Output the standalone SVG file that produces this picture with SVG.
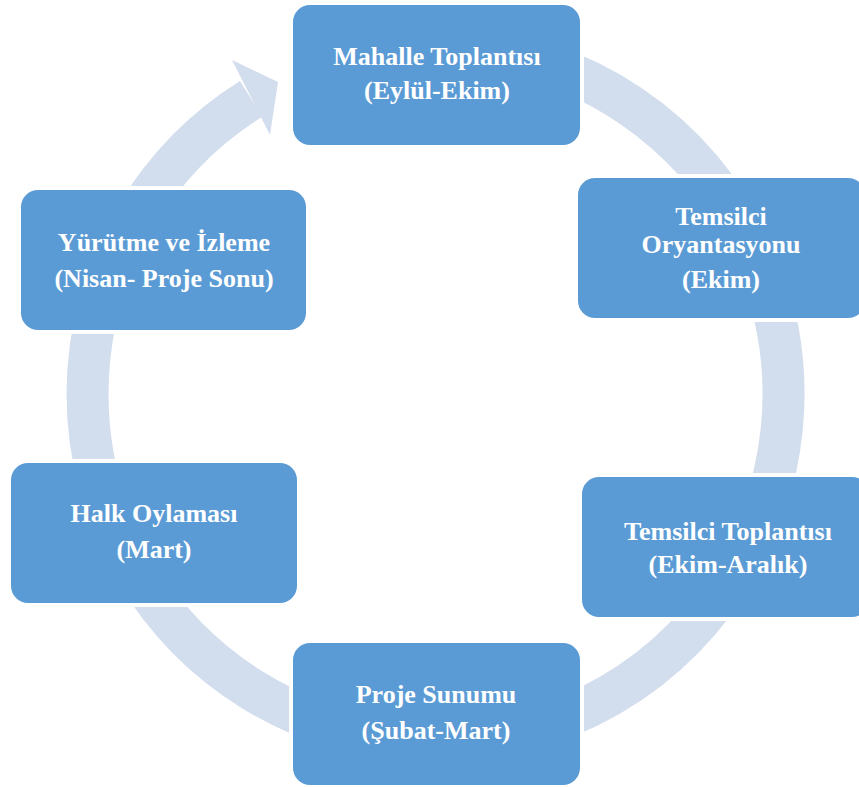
<svg xmlns="http://www.w3.org/2000/svg" width="859" height="787" viewBox="0 0 859 787">
<style>
.ring{fill:none;stroke:#D2DDEE;stroke-width:42}
.head{fill:#D2DDEE}
.halo{fill:#FFFFFF}
.box{fill:#5B9BD5}
.t{fill:#FFFFFF;font-family:"Liberation Serif","Times New Roman",serif;font-weight:bold;font-size:26px;text-anchor:middle}
</style>
<rect width="859" height="787" fill="#FFFFFF"/>
<g id="connectors">
<path class="ring" d="M316.5,67 A348,348 0 1 1 251.1,98.9"/>
<polygon class="head" points="232,60 278,82 270,135"/>
</g>
<g id="n1">
<rect class="halo" x="289" y="1" width="295" height="148" rx="20"/>
<rect class="box" x="293" y="5" width="287" height="140" rx="17"/>
<text class="t" x="437" y="65">Mahalle Toplantısı</text>
<text class="t" x="437" y="99">(Eylül-Ekim)</text>
</g>
<g id="n2">
<rect class="halo" x="574" y="174" width="295" height="148" rx="20"/>
<rect class="box" x="578" y="178" width="287" height="140" rx="17"/>
<text class="t" x="721" y="225">Temsilci</text>
<text class="t" x="721" y="253">Oryantasyonu</text>
<text class="t" x="721" y="288">(Ekim)</text>
</g>
<g id="n3">
<rect class="halo" x="578" y="473" width="295" height="148" rx="20"/>
<rect class="box" x="582" y="477" width="287" height="140" rx="17"/>
<text class="t" x="728" y="540">Temsilci Toplantısı</text>
<text class="t" x="728" y="573">(Ekim-Aralık)</text>
</g>
<g id="n4">
<rect class="halo" x="289" y="639" width="295" height="150" rx="20"/>
<rect class="box" x="293" y="643" width="287" height="142" rx="17"/>
<text class="t" x="436" y="703">Proje Sunumu</text>
<text class="t" x="436" y="739">(Şubat-Mart)</text>
</g>
<g id="n5">
<rect class="halo" x="7" y="459" width="294" height="148" rx="20"/>
<rect class="box" x="11" y="463" width="286" height="140" rx="17"/>
<text class="t" x="154" y="522">Halk Oylaması</text>
<text class="t" x="154" y="558">(Mart)</text>
</g>
<g id="n6">
<rect class="halo" x="17" y="186" width="293" height="148" rx="20"/>
<rect class="box" x="21" y="190" width="285" height="140" rx="17"/>
<text class="t" x="164" y="251">Yürütme ve İzleme</text>
<text class="t" x="164" y="287">(Nisan- Proje Sonu)</text>
</g>
</svg>
